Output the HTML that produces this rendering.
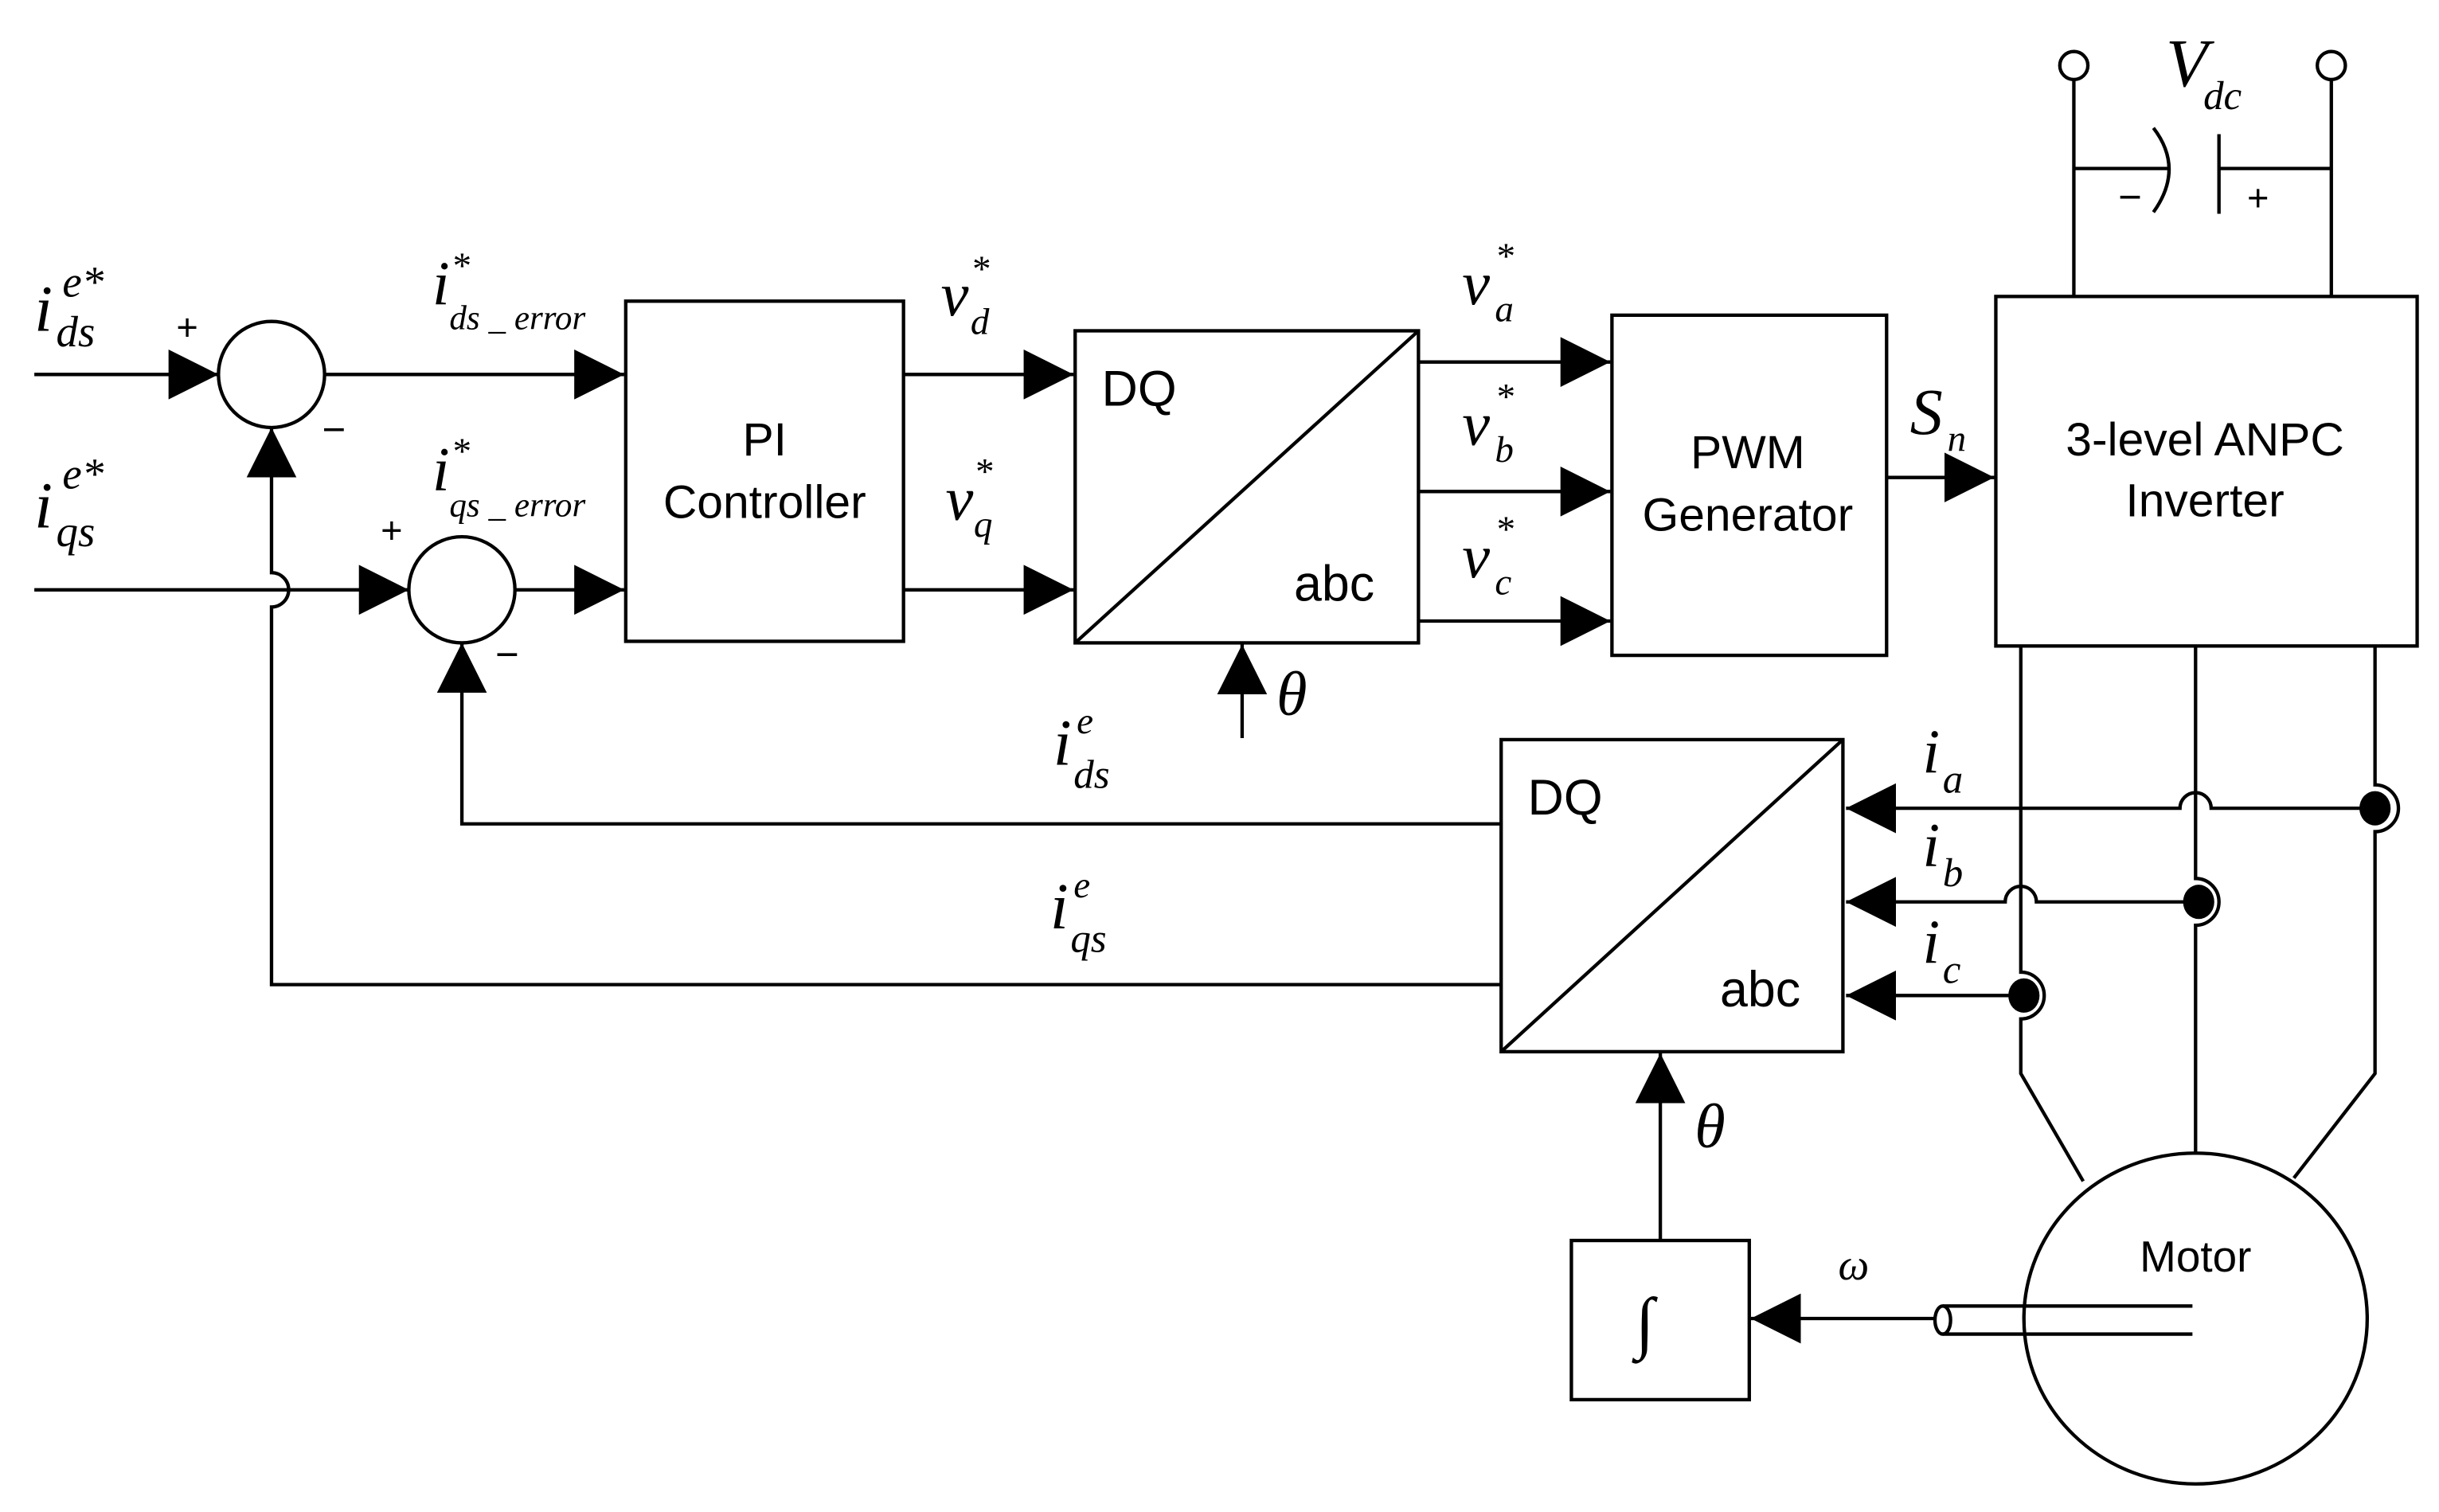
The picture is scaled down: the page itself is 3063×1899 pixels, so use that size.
<!DOCTYPE html>
<html><head><meta charset="utf-8"><style>
html,body{margin:0;padding:0;background:#fff}
svg{display:block}
.m{font-family:"Liberation Serif",serif;font-style:italic}
.s{font-family:"Liberation Sans",sans-serif}
</style></head><body>
<svg width="3063" height="1899" viewBox="0 0 1563 969" preserveAspectRatio="none" xmlns="http://www.w3.org/2000/svg">
<defs>
<marker id="a" viewBox="0 0 10 10" refX="10" refY="5" markerWidth="32" markerHeight="32" markerUnits="userSpaceOnUse" orient="auto"><path d="M0,0 L10,5 L0,10 z" fill="#000"/></marker>
</defs>
<g stroke="#000" stroke-width="2.2" fill="none">
<line x1="22" y1="240" x2="140" y2="240" marker-end="url(#a)"/>
<circle cx="174" cy="240" r="34"/>
<line x1="208" y1="240" x2="400" y2="240" marker-end="url(#a)"/>
<line x1="22" y1="378" x2="262" y2="378" marker-end="url(#a)"/>
<circle cx="296" cy="378" r="34"/>
<line x1="330" y1="378" x2="400" y2="378" marker-end="url(#a)"/>
<path d="M962,631 H174 V389 A11,11 0 0 0 174,367 V300"/>
<line x1="174" y1="300" x2="174" y2="274" marker-end="url(#a)"/>
<path d="M962,528 H296 V440"/>
<line x1="296" y1="440" x2="296" y2="412" marker-end="url(#a)"/>
<rect x="401" y="193" width="178" height="218"/>
<line x1="579" y1="240" x2="688" y2="240" marker-end="url(#a)"/>
<line x1="579" y1="378" x2="688" y2="378" marker-end="url(#a)"/>
<rect x="689" y="212" width="220" height="200"/>
<line x1="689" y1="412" x2="909" y2="212"/>
<line x1="796" y1="473" x2="796" y2="413" marker-end="url(#a)"/>
<line x1="909" y1="232" x2="1032" y2="232" marker-end="url(#a)"/>
<line x1="909" y1="315" x2="1032" y2="315" marker-end="url(#a)"/>
<line x1="909" y1="398" x2="1032" y2="398" marker-end="url(#a)"/>
<rect x="1033" y="202" width="176" height="218"/>
<line x1="1209" y1="306" x2="1278" y2="306" marker-end="url(#a)"/>
<rect x="1279" y="190" width="270" height="224"/>
<line x1="1329" y1="51" x2="1329" y2="190"/>
<line x1="1494" y1="51" x2="1494" y2="190"/>
<circle cx="1329" cy="42" r="9" fill="#fff"/>
<circle cx="1494" cy="42" r="9" fill="#fff"/>
<line x1="1329" y1="108" x2="1389" y2="108"/>
<path d="M1380,82 Q1400,108 1380,136"/>
<line x1="1422" y1="86" x2="1422" y2="137"/>
<line x1="1422" y1="108" x2="1494" y2="108"/>
<path d="M1295,414 V623 A15,15 0 0 1 1295,653 V688 L1335,757"/>
<path d="M1407,414 V563 A15,15 0 0 1 1407,593 V740"/>
<path d="M1522,414 V503 A15,15 0 0 1 1522,533 V688 L1470,755"/>
<path d="M1522,518 H1417 A10,10 0 0 0 1397,518 H1183" marker-end="url(#a)"/>
<path d="M1409,578 H1305 A10,10 0 0 0 1285,578 H1183" marker-end="url(#a)"/>
<line x1="1297" y1="638" x2="1183" y2="638" marker-end="url(#a)"/>
<rect x="962" y="474" width="219" height="200"/>
<line x1="962" y1="674" x2="1181" y2="474"/>
<line x1="1064" y1="795" x2="1064" y2="675" marker-end="url(#a)"/>
<rect x="1007" y="795" width="114" height="102"/>
<line x1="1240" y1="845" x2="1122" y2="845" marker-end="url(#a)"/>
<ellipse cx="1407" cy="845" rx="110" ry="106"/>
<ellipse cx="1245" cy="846" rx="5" ry="9"/>
<line x1="1245" y1="837" x2="1405" y2="837"/>
<line x1="1245" y1="855" x2="1405" y2="855"/>
</g>
<g fill="#000">
<ellipse cx="1522" cy="518" rx="10" ry="11"/>
<ellipse cx="1409" cy="578" rx="10" ry="11"/>
<ellipse cx="1297" cy="638" rx="10" ry="11"/>
</g>
<g class="s" font-size="30" text-anchor="middle" fill="#000">
<text x="490" y="292">PI</text>
<text x="490" y="332">Controller</text>
<text x="1120" y="300">PWM</text>
<text x="1120" y="340">Generator</text>
<text x="1413" y="292">3-level ANPC</text>
<text x="1413" y="331">Inverter</text>
<text x="1407" y="815" font-size="28">Motor</text>
<text x="730" y="260" font-size="32">DQ</text>
<text x="855" y="385" font-size="32">abc</text>
<text x="1003" y="522" font-size="32">DQ</text>
<text x="1128" y="645" font-size="32">abc</text>
<text x="120" y="218" font-size="24">+</text>
<text x="214" y="284" font-size="26">−</text>
<text x="251" y="348" font-size="24">+</text>
<text x="325" y="428" font-size="26">−</text>
<text x="1365" y="135" font-size="26">−</text>
<text x="1447" y="135" font-size="24">+</text>
</g>
<g class="m" fill="#000">
<text x="22" y="212" font-size="42">i</text><text x="40" y="190" font-size="28">e*</text><text x="36" y="222" font-size="28">ds</text>
<text x="22" y="338" font-size="42">i</text><text x="40" y="313" font-size="28">e*</text><text x="36" y="350" font-size="28">qs</text>
<text x="277" y="195" font-size="40">i</text><text x="289" y="178" font-size="24">*</text><text x="288" y="211" font-size="22">ds _ error</text>
<text x="277" y="314" font-size="40">i</text><text x="289" y="297" font-size="24">*</text><text x="288" y="331" font-size="22">qs _ error</text>
<text x="603" y="202" font-size="40">v</text><text x="622" y="180" font-size="24">*</text><text x="622" y="214" font-size="24">d</text>
<text x="606" y="333" font-size="40">v</text><text x="624" y="310" font-size="24">*</text><text x="624" y="344" font-size="24">q</text>
<text x="937" y="195" font-size="40">v</text><text x="958" y="172" font-size="24">*</text><text x="958" y="206" font-size="24">a</text>
<text x="937" y="285" font-size="40">v</text><text x="958" y="262" font-size="24">*</text><text x="958" y="296" font-size="24">b</text>
<text x="937" y="370" font-size="40">v</text><text x="958" y="347" font-size="24">*</text><text x="958" y="381" font-size="24">c</text>
<text x="1224" y="278" font-size="42">S</text><text x="1248" y="289" font-size="24">n</text>
<text x="1388" y="55" font-size="44">V</text><text x="1412" y="70" font-size="26">dc</text>
<text x="818" y="458" font-size="40">θ</text>
<text x="1086" y="735" font-size="40">θ</text>
<text x="1178" y="820" font-size="28">ω</text>
<text x="675" y="490" font-size="42">i</text><text x="690" y="470" font-size="24">e</text><text x="688" y="505" font-size="26">ds</text>
<text x="673" y="595" font-size="42">i</text><text x="688" y="575" font-size="24">e</text><text x="686" y="610" font-size="26">qs</text>
<text x="1232" y="495" font-size="40">i</text><text x="1245" y="508" font-size="26">a</text>
<text x="1232" y="555" font-size="40">i</text><text x="1245" y="568" font-size="26">b</text>
<text x="1232" y="617" font-size="40">i</text><text x="1245" y="630" font-size="26">c</text>
<text x="1048" y="862" font-size="44" font-style="normal">∫</text>
</g>
</svg>
</body></html>
